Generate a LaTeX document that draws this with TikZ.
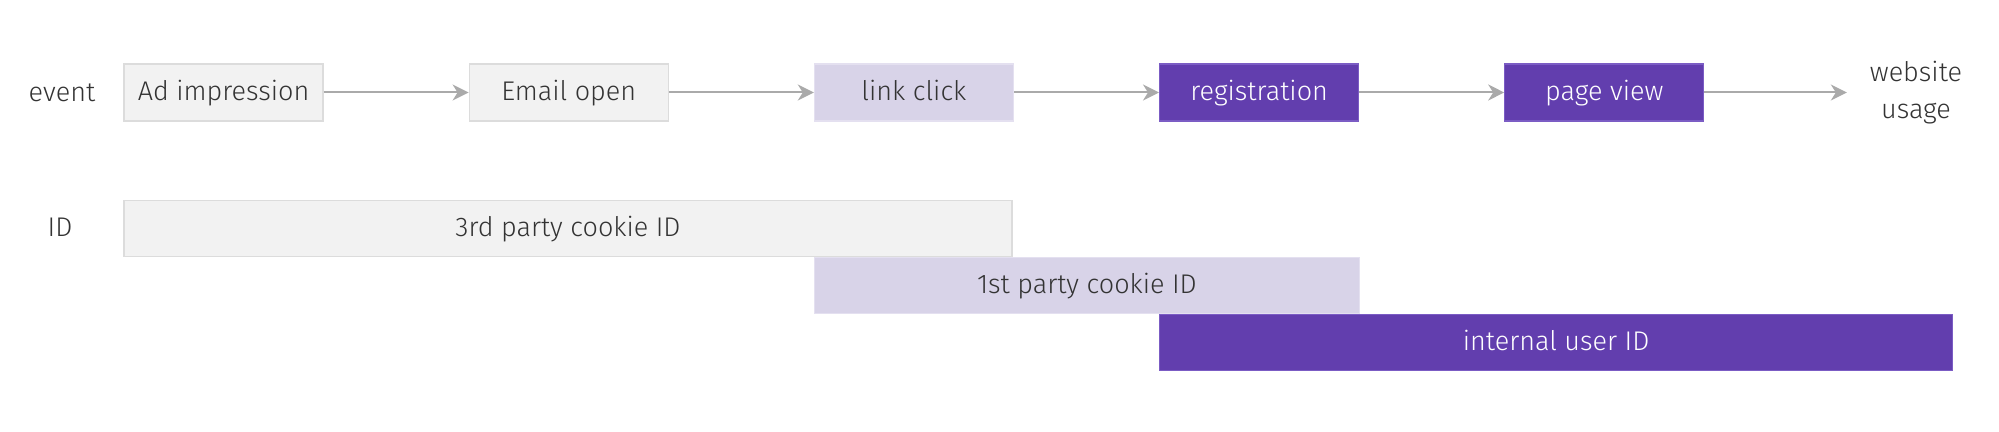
\documentclass[tikz,border=0pt]{standalone}
\usepackage{fontspec}
\setmainfont{Fira Sans Light}
\usetikzlibrary{arrows.meta,positioning}
\definecolor{boxgray}{HTML}{F2F2F2}
\definecolor{linegray}{HTML}{DCDCDC}
\definecolor{lilac}{HTML}{D8D3E8}
\definecolor{lilacline}{HTML}{E4E0F0}
\definecolor{violet}{HTML}{623EAE}
\definecolor{violetline}{HTML}{7B5CC4}
\definecolor{arrowgray}{HTML}{AAAAAA}
\definecolor{txt}{HTML}{333333}
\tikzset{
  evtbox/.style={draw=linegray, fill=boxgray, line width=0.6pt,
    minimum width=99.5pt, minimum height=28.5pt, inner sep=0pt,
    text height=11.6pt, text depth=3.4pt},
  lilacbox/.style={draw=lilacline, fill=lilac},
  violetbox/.style={draw=violetline, fill=violet, text=white},
  idbar/.style={evtbox, minimum height=28pt, anchor=north west},
  flow/.style={draw=arrowgray, line width=1pt,
    -{Stealth[length=8pt, width=8pt, inset=2.5pt]}}
}
\begin{document}
\begin{tikzpicture}[x=0.5pt, y=-0.5pt, font=\fontsize{13.5}{18.5}\selectfont,
    text=txt, node distance=72.5pt]
  \useasboundingbox (0,0) rectangle (1999,432);
  % events
  \node[evtbox] (ad) at (223.5,92.5) {Ad impression};
  \node[evtbox, right=of ad] (email) {Email open};
  \node[evtbox, lilacbox, right=of email] (click) {link click};
  \node[evtbox, violetbox, right=of click] (reg) {registration};
  \node[evtbox, violetbox, right=of reg] (view) {page view};
  \node[align=center] (usage) at (1916,92.5) {website\\usage};
  \node (event) at (62,92.5) {event};
  \foreach \a/\b in {ad/email, email/click, click/reg, reg/view}
    \draw[flow] (\a) -- (\b);
  \draw[flow, shorten >=8pt] (view) -- (usage);
  % ids
  \node (id) at (60,227) {ID};
  \node[idbar, minimum width=444pt] (third) at ([yshift=-39pt]ad.south west)
    {3rd party cookie ID};
  \node[idbar, lilacbox, minimum width=272.5pt] (first) at (third.south -| click.west)
    {1st party cookie ID};
  \node[idbar, violetbox, minimum width=396.5pt] (internal) at (first.south -| reg.west)
    {internal user ID};
\end{tikzpicture}
\end{document}
